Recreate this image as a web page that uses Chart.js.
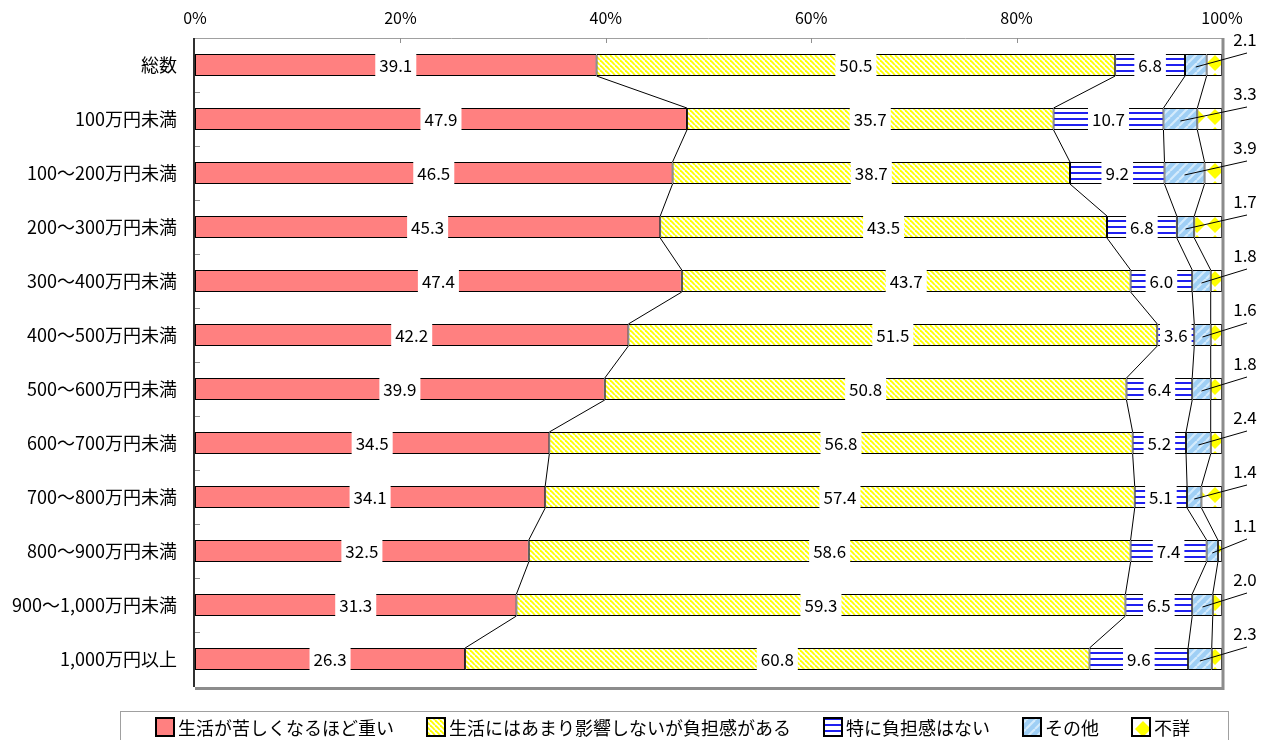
<!DOCTYPE html>
<html>
<head>
<meta charset="utf-8">
<script src="https://cdn.jsdelivr.net/npm/chart.js"></script>
<style>
  html, body { margin: 0; background: #fff; }
  #wrap { width: 1267px; height: 740px; position: relative; }
</style>
</head>
<body>
<div id="wrap"><canvas id="chart"></canvas></div>
<script>
/* =====  data  ===== */
const categories = ['総数', '100万円未満', '100～200万円未満', '200～300万円未満', '300～400万円未満',
  '400～500万円未満', '500～600万円未満', '600～700万円未満', '700～800万円未満',
  '800～900万円未満', '900～1,000万円未満', '1,000万円以上'];
const seriesNames = ['生活が苦しくなるほど重い', '生活にはあまり影響しないが負担感がある', '特に負担感はない', 'その他', '不詳'];
const heavy    = [39.1, 47.9, 46.5, 45.3, 47.4, 42.2, 39.9, 34.5, 34.1, 32.5, 31.3, 26.3];
const burden   = [50.5, 35.7, 38.7, 43.5, 43.7, 51.5, 50.8, 56.8, 57.4, 58.6, 59.3, 60.8];
const noBurden = [6.8, 10.7, 9.2, 6.8, 6.0, 3.6, 6.4, 5.2, 5.1, 7.4, 6.5, 9.6];
const other    = [2.1, 3.3, 3.9, 1.7, 1.8, 1.6, 1.8, 2.4, 1.4, 1.1, 2.0, 2.3];
const unknown  = [1.5, 2.4, 1.7, 2.7, 1.1, 1.1, 1.1, 1.1, 2.0, 0.4, 0.9, 1.0];
const xTicks   = [0, 20, 40, 60, 80, 100];

const FONT = '"Noto Sans CJK JP", "Noto Sans", sans-serif';
Chart.defaults.font.family = FONT;
Chart.defaults.color = '#000';

/* =====  fill patterns  ===== */
function tile(w, h, draw) {
  const c = document.createElement('canvas');
  c.width = w; c.height = h;
  const g = c.getContext('2d');
  draw(g, w, h);
  return g.createPattern(c, 'repeat');
}
const redFill = '#FF8080';
const yellowStripes = tile(5, 5, (g, w) => {
  g.fillStyle = '#fff'; g.fillRect(0, 0, w, w);
  g.strokeStyle = '#FFFF00'; g.lineWidth = 1.8;
  for (const o of [-w, 0, w]) { g.beginPath(); g.moveTo(o, 0); g.lineTo(o + w, w); g.stroke(); }
});
const blueLines = tile(1, 6, g => {
  g.fillStyle = '#fff'; g.fillRect(0, 0, 1, 6);
  g.fillStyle = '#2020F0'; g.fillRect(0, 4, 1, 2);
});
const skyStripes = tile(9, 9, (g, w) => {
  g.fillStyle = '#9FCFF5'; g.fillRect(0, 0, w, w);
  g.strokeStyle = '#D4EBFC'; g.lineWidth = 2.2;
  for (const o of [-w, 0, w]) { g.beginPath(); g.moveTo(o, w); g.lineTo(o + w, 0); g.stroke(); }
});
const diamonds = tile(18, 18, g => {
  g.fillStyle = '#fff'; g.fillRect(0, 0, 18, 18);
  g.fillStyle = '#FFFF00';
  g.beginPath(); g.moveTo(9, 1); g.lineTo(17, 9); g.lineTo(9, 17); g.lineTo(1, 9); g.closePath(); g.fill();
});
const fills = [redFill, yellowStripes, blueLines, skyStripes, diamonds];
const values = [heavy, burden, noBurden, other, unknown];

/* =====  frame, connector lines, value labels, legend  ===== */
const decorations = {
  id: 'decorations',
  afterDatasetsDraw(chart) {
    const { ctx, chartArea: a, scales: { x } } = chart;
    const n = categories.length;
    const band = (a.bottom - a.top) / n;
    ctx.save();

    /*  frame  */
    ctx.strokeStyle = '#A0A0A0'; ctx.lineWidth = 1;
    ctx.beginPath(); ctx.moveTo(a.left, a.top + 0.5); ctx.lineTo(a.right, a.top + 0.5); ctx.stroke();
    ctx.strokeStyle = '#8C8C8C'; ctx.lineWidth = 3;
    ctx.beginPath(); ctx.moveTo(a.right + 1, a.top); ctx.lineTo(a.right + 1, a.bottom + 2.5);
    ctx.lineTo(a.left, a.bottom + 2.5); ctx.stroke();
    ctx.strokeStyle = '#303030'; ctx.lineWidth = 2;
    ctx.beginPath(); ctx.moveTo(a.left - 1, a.top); ctx.lineTo(a.left - 1, a.bottom + 1); ctx.stroke();

    /*  small inside ticks  */
    ctx.strokeStyle = '#909090'; ctx.lineWidth = 1;
    xTicks.slice(1, -1).forEach(t => {
      const px = Math.round(x.getPixelForValue(t)) + 0.5;
      ctx.beginPath(); ctx.moveTo(px, a.top); ctx.lineTo(px, a.top + 5); ctx.stroke();
    });
    for (let k = 1; k < n; k++) {
      const py = Math.round(a.top + k * band) + 0.5;
      ctx.beginPath(); ctx.moveTo(a.left, py); ctx.lineTo(a.left + 5, py); ctx.stroke();
    }

    /*  series lines between bars  */
    ctx.strokeStyle = '#000'; ctx.lineWidth = 1;
    for (let k = 0; k < 4; k++) {
      const bars = chart.getDatasetMeta(k).data;
      for (let i = 0; i < n - 1; i++) {
        const p = bars[i], q = bars[i + 1];
        ctx.beginPath();
        ctx.moveTo(p.x, p.y + p.height / 2);
        ctx.lineTo(q.x, q.y - q.height / 2);
        ctx.stroke();
      }
    }

    /*  value labels inside bars  */
    ctx.font = '17px ' + FONT;
    ctx.textAlign = 'center'; ctx.textBaseline = 'middle';
    for (let k = 0; k < 3; k++) {
      chart.getDatasetMeta(k).data.forEach((b, i) => {
        const txt = values[k][i].toFixed(1);
        const cx = (b.x + b.base) / 2;
        const w = ctx.measureText(txt).width + 8;
        ctx.fillStyle = '#fff';
        ctx.fillRect(cx - w / 2, b.y - b.height / 2 - 1, w, b.height + 2);
        ctx.fillStyle = '#000';
        ctx.fillText(txt, cx, b.y + 1);
      });
    }

    /*  その他 labels outside with leader lines  */
    chart.getDatasetMeta(3).data.forEach((b, i) => {
      const cx = (b.x + b.base) / 2;
      ctx.strokeStyle = '#000';
      ctx.beginPath(); ctx.moveTo(a.right + 25, b.y - 12); ctx.lineTo(cx, b.y + 2); ctx.stroke();
      ctx.fillStyle = '#000';
      ctx.fillText(other[i].toFixed(1), a.right + 23, b.y - 25);
    });
    ctx.restore();
  },
  afterDraw(chart) {
    const { ctx } = chart;
    ctx.save();
    ctx.strokeStyle = '#A0A0A0'; ctx.lineWidth = 1;
    ctx.strokeRect(120.5, 711.5, 1108, 40);

    ctx.font = '18px ' + FONT;
    ctx.textBaseline = 'middle'; ctx.textAlign = 'left';
    const box = 20, gap = 3, spacing = 32;
    const widths = seriesNames.map(s => ctx.measureText(s).width);
    const total = widths.reduce((s, w) => s + box + gap + w, 0) + spacing * (seriesNames.length - 1);
    let px = Math.round(672 - total / 2);
    seriesNames.forEach((s, k) => {
      ctx.fillStyle = fills[k];
      ctx.fillRect(px, 717, box, box);
      ctx.strokeStyle = '#000'; ctx.lineWidth = 2;
      ctx.strokeRect(px + 1, 718, box - 2, box - 2);
      ctx.fillStyle = '#000';
      ctx.fillText(s, px + box + gap, 728);
      px += box + gap + widths[k] + spacing;
    });
    ctx.restore();
  }
};

/* =====  chart  ===== */
new Chart(document.getElementById('chart'), {
  type: 'bar',
  data: {
    labels: categories,
    datasets: seriesNames.map((name, k) => ({
      label: name,
      data: values[k],
      backgroundColor: fills[k],
      borderColor: '#000',
      borderWidth: 1,
      borderSkipped: false,
      categoryPercentage: 1,
      barPercentage: 22 / 54
    }))
  },
  options: {
    indexAxis: 'y',
    responsive: true,
    maintainAspectRatio: false,
    animation: false,
    layout: { padding: { left: 0, top: 0, right: 45, bottom: 54 } },
    scales: {
      x: {
        position: 'top', stacked: true, min: 0, max: 100,
        afterBuildTicks: s => { s.ticks = xTicks.map(v => ({ value: v })); },
        ticks: { callback: v => v + '%', font: { size: 16 }, padding: 10, maxRotation: 0 },
        grid: { display: false, drawTicks: false },
        border: { display: false },
        afterFit: s => { s.height = 38; }
      },
      y: {
        stacked: true,
        ticks: { font: { size: 18 }, padding: 18 },
        grid: { display: false, drawTicks: false },
        border: { display: false },
        afterFit: s => { s.width = 195; }
      }
    },
    plugins: { legend: { display: false }, tooltip: { enabled: false } }
  },
  plugins: [decorations]
});
</script>
</body>
</html>
